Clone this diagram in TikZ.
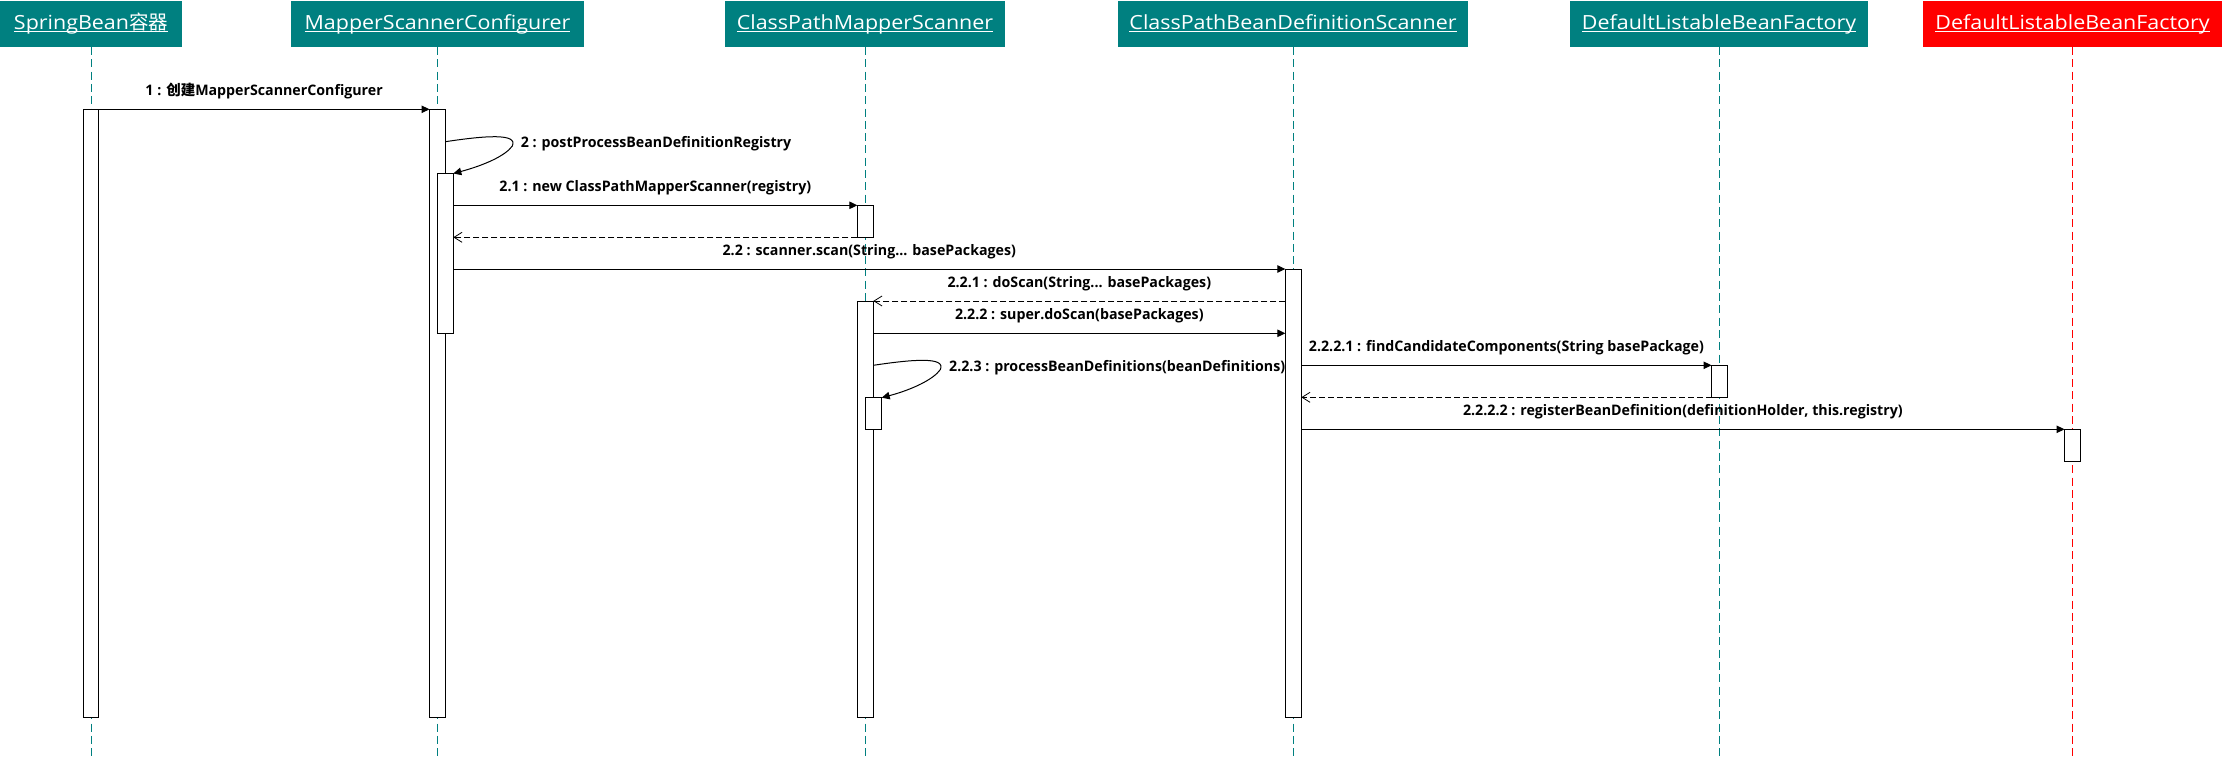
\documentclass[tikz,border=0pt]{standalone}
\usepackage{fontspec}
\usetikzlibrary{arrows.meta,fit,calc}
\setmainfont{Open Sans}
\newfontfamily\hdrfont[FakeStretch=1.10]{Open Sans}
\newfontfamily\lblfont[FakeStretch=0.98]{Open Sans}
\newfontfamily\cjkfont{Noto Sans CJK SC}
\definecolor{hdrteal}{RGB}{0,128,128}
\definecolor{hdrred}{RGB}{255,0,0}
\newcommand\hul[1]{\setbox0=\hbox{#1}\rlap{\rule[-2.4pt]{\wd0}{1.1pt}}\box0}
\tikzset{
  hdr/.style={draw=none, inner sep=0pt, outer sep=0pt},
  htext/.style={anchor=base, inner sep=0pt, text=white, font=\hdrfont\fontsize{19.5}{22}\selectfont},
  life/.style={line width=1pt, dash pattern=on 8pt off 4.3pt},
  bar/.style={draw=black, fill=white, line width=1pt, inner sep=0pt, outer sep=0pt},
  msg/.style={line width=1pt, -{Triangle[length=8pt,width=7.5pt]}},
  ret/.style={line width=0.8pt, dash pattern=on 6pt off 3pt, -{Straight Barb[length=8pt,width=10pt,line width=0.8pt]}},
  lbl/.style={anchor=base, inner sep=0pt, font=\lblfont\bfseries\fontsize{14.5}{16}\selectfont},
  lblw/.style={anchor=base west, inner sep=0pt, font=\lblfont\bfseries\fontsize{14.5}{16}\selectfont}
}
\begin{document}
\begin{tikzpicture}[x=1pt,y=-1pt]
\useasboundingbox (0,0) rectangle (2222,758);
% headers
\node[hdr, fill=hdrteal, fit={(0,1) (182,47)}] (h1) {};
\node[hdr, fill=hdrteal, fit={(291,1) (584,47)}] (h2) {};
\node[hdr, fill=hdrteal, fit={(725,1) (1005,47)}] (h3) {};
\node[hdr, fill=hdrteal, fit={(1118,1) (1468,47)}] (h4) {};
\node[hdr, fill=hdrteal, fit={(1570,1) (1868,47)}] (h5) {};
\node[hdr, fill=hdrred, fit={(1923,1) (2222,47)}] (h6) {};
\node[htext] (t1) at (h1.center |- 0,29.3) {\hul{SpringBean{\cjkfont 容器}}};
\node[htext] (t2) at (h2.center |- 0,29.3) {\hul{MapperScannerConfigurer}};
\node[htext] (t3) at (h3.center |- 0,29.3) {\hul{ClassPathMapperScanner}};
\node[htext] (t4) at (h4.center |- 0,29.3) {\hul{ClassPathBeanDefinitionScanner}};
\node[htext] (t5) at (h5.center |- 0,29.3) {\hul{DefaultListableBeanFactory}};
\node[htext] (t6) at (h6.center |- 0,29.3) {\hul{DefaultListableBeanFactory}};
% lifelines
\coordinate (bottom) at (0,758);
\draw[life, draw=hdrteal] (h1.south) -- (h1.south |- bottom);
\draw[life, draw=hdrteal] (h2.south) -- (h2.south |- bottom);
\draw[life, draw=hdrteal] (h3.south) -- (h3.south |- bottom);
\draw[life, draw=hdrteal] (h4.south) -- (h4.south |- bottom);
\draw[life, draw=hdrteal] (h5.south) -- (h5.south |- bottom);
\draw[life, draw=hdrred] (h6.south) -- (h6.south |- bottom);
% activation bars
\node[bar, fit={(83,109.3) (98.7,717)}] (b1) {};
\node[bar, fit={(429.5,109.3) (445.3,717)}] (b2) {};
\node[bar, fit={(437.3,173.5) (453.3,333.3)}] (b2n) {};
\node[bar, fit={(857.3,205.3) (873.3,237.3)}] (b3a) {};
\node[bar, fit={(857.3,301) (873.3,717)}] (b3b) {};
\node[bar, fit={(865.7,397.7) (881.7,429.3)}] (b3n) {};
\node[bar, fit={(1285.3,269) (1301.3,717)}] (b4) {};
\node[bar, fit={(1711.5,365.3) (1727.5,397.3)}] (b5) {};
\node[bar, fit={(2064.5,429.3) (2080.5,461.3)}] (b6) {};
% messages
\draw[msg] (b1.north east) -- (b2.north west);
\node[lbl] (m1) at ($(b1.north east)!0.5!(b2.north west)+(0,-13.8)$) {1 : {\cjkfont 创建}MapperScannerConfigurer};

\coordinate (s2) at (b2.east |- 0,141.7);
\draw[msg] (s2) .. controls +(40,-6) and +(6,-13) .. +(67,4.3) .. controls +(-7,10) and +(30,-8) .. (b2n.north east);
\node[lblw] (m2) at (520.7,147.7) {2 : postProcessBeanDefinitionRegistry};

\draw[msg] (b2n.east |- b3a.north) -- (b3a.north west);
\node[lbl] (m21) at ($(b2n.east |- b3a.north)!0.5!(b3a.north west)+(0,-13.8)$) {2.1 : new ClassPathMapperScanner(registry)};
\draw[ret] (b3a.south west) -- (b2n.east |- b3a.south);

\draw[msg] (b2n.east |- b4.north) -- (b4.north west);
\node[lbl] (m22) at ($(b2n.east |- b4.north)!0.5!(b4.north west)+(0,-13.8)$) {2.2 : scanner.scan(String... basePackages)};

\draw[ret] (b4.west |- b3b.north) -- (b3b.north east);
\node[lbl] (m221) at ($(b4.west |- b3b.north)!0.5!(b3b.north east)+(0,-13.8)$) {2.2.1 : doScan(String... basePackages)};

\coordinate (y222) at (0,333.3);
\draw[msg] (b3b.east |- y222) -- (b4.west |- y222);
\node[lbl] (m222) at ($(b3b.east |- y222)!0.5!(b4.west |- y222)+(0,-13.8)$) {2.2.2 : super.doScan(basePackages)};

\coordinate (s223) at (b3b.east |- 0,365.3);
\draw[msg] (s223) .. controls +(40,-6) and +(6,-13) .. +(67,4.3) .. controls +(-7,10) and +(30,-8) .. (b3n.north east);
\node[lblw] (m223) at (949,371.7) {2.2.3 : processBeanDefinitions(beanDefinitions)};

\draw[msg] (b4.east |- b5.north) -- (b5.north west);
\node[lbl] (m2221) at ($(b4.east |- b5.north)!0.5!(b5.north west)+(0,-13.8)$) {2.2.2.1 : findCandidateComponents(String basePackage)};
\draw[ret] (b5.south west) -- (b4.east |- b5.south);

\draw[msg] (b4.east |- b6.north) -- (b6.north west);
\node[lbl] (m2222) at ($(b4.east |- b6.north)!0.5!(b6.north west)+(0,-13.8)$) {2.2.2.2 : registerBeanDefinition(definitionHolder, this.registry)};
\end{tikzpicture}
\end{document}
